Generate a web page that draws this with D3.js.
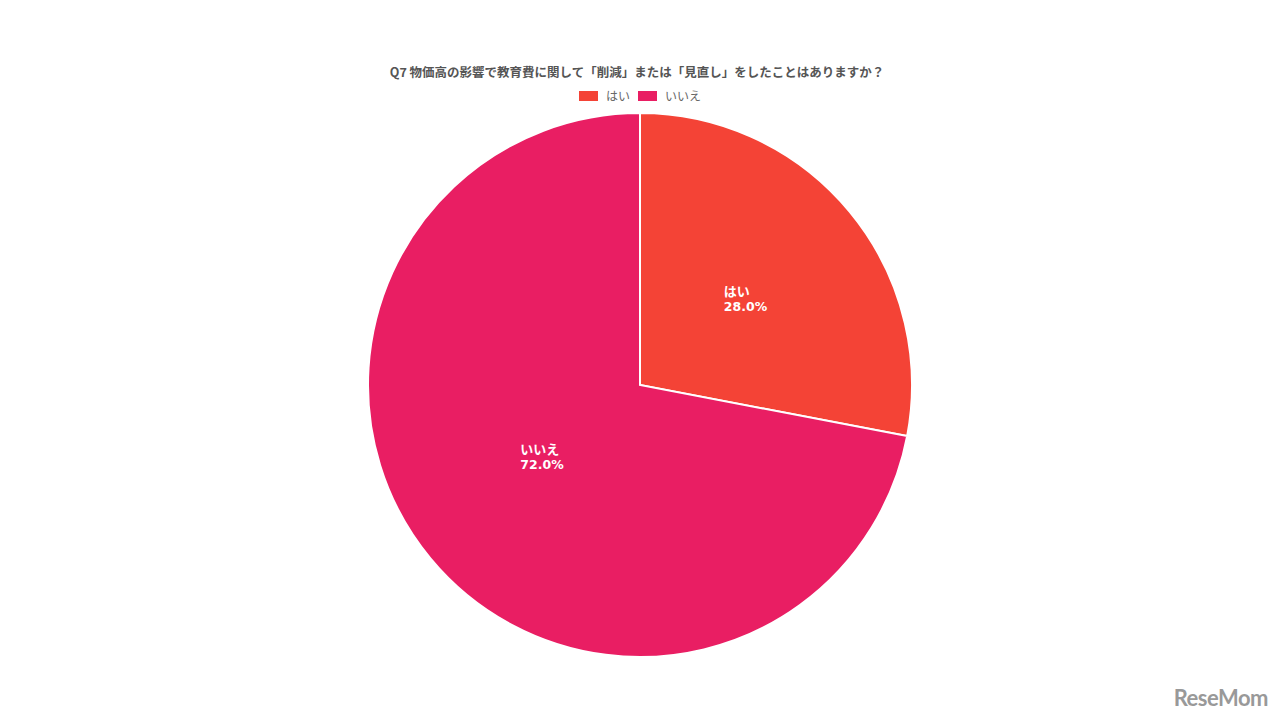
<!DOCTYPE html>
<html><head><meta charset="utf-8">
<script src="https://cdn.jsdelivr.net/npm/d3@7"></script>
<style>
html,body{margin:0;padding:0;background:#fff;}
svg{display:block;font-family:"Noto Sans CJK JP","Noto Sans",sans-serif;}
</style></head>
<body>
<svg id="chart" width="1280" height="720"></svg>
<script>
const title = "Q7 物価高の影響で教育費に関して「削減」または「見直し」をしたことはありますか？";
const categories = ["はい", "いいえ"];
const values = [28.0, 72.0];
const colors = ["#f44336", "#e91e63"];

const svg = d3.select("#chart");
const cx = 640, cy = 385, R = 272;

svg.append("text").attr("x", 637).attr("y", 77).attr("text-anchor", "middle")
  .attr("font-size", 12.5).attr("font-weight", "bold").attr("fill", "#555").text(title);

// legend
const leg = svg.append("g");
const legX = [579, 638];
categories.forEach((c, i) => {
  leg.append("rect").attr("x", legX[i]).attr("y", 91).attr("width", 19).attr("height", 10).attr("fill", colors[i]);
  leg.append("text").attr("x", legX[i] + 27).attr("y", 100.5).attr("font-size", 12).attr("fill", "#666").text(c);
});

const pie = d3.pie().sort(null).value(d => d)(values);
const arc = d3.arc().innerRadius(0).outerRadius(R);
const g = svg.append("g").attr("transform", `translate(${cx},${cy})`);
g.selectAll("path").data(pie).enter().append("path")
  .attr("d", arc).attr("fill", (d, i) => colors[i]).attr("stroke", "#fff").attr("stroke-width", 2);

const labelArc = d3.arc().innerRadius(R * 0.5).outerRadius(R * 0.5);
const labelShift = [[1, -1], [7, -16]];
pie.forEach((d, i) => {
  const [x, y] = labelArc.centroid(d);
  const lg = g.append("g");
  lg.append("text").attr("x", 0).attr("y", 0).attr("font-size", 13).attr("font-weight", "bold")
    .attr("fill", "#fff").text(categories[i]);
  lg.append("text").attr("x", 0).attr("y", 15).attr("font-size", 12.5).attr("font-weight", "bold")
    .attr("font-family", "'DejaVu Sans', Verdana, sans-serif")
    .attr("fill", "#fff").text(values[i].toFixed(1) + "%");
  const bb = lg.node().getBBox();
  const tx = x + labelShift[i][0] - bb.width / 2;
  const ty = y + labelShift[i][1] - (bb.y + bb.height / 2);
  lg.attr("transform", `translate(${tx},${ty})`);
});

// watermark
svg.append("text").attr("x", 1268).attr("y", 706).attr("text-anchor", "end")
  .attr("font-size", 22).attr("font-weight", "bold").attr("fill", "#999")
  .attr("font-family", "Lato, 'Noto Sans', sans-serif").attr("letter-spacing", -0.5).text("ReseMom");
</script>
</body></html>
